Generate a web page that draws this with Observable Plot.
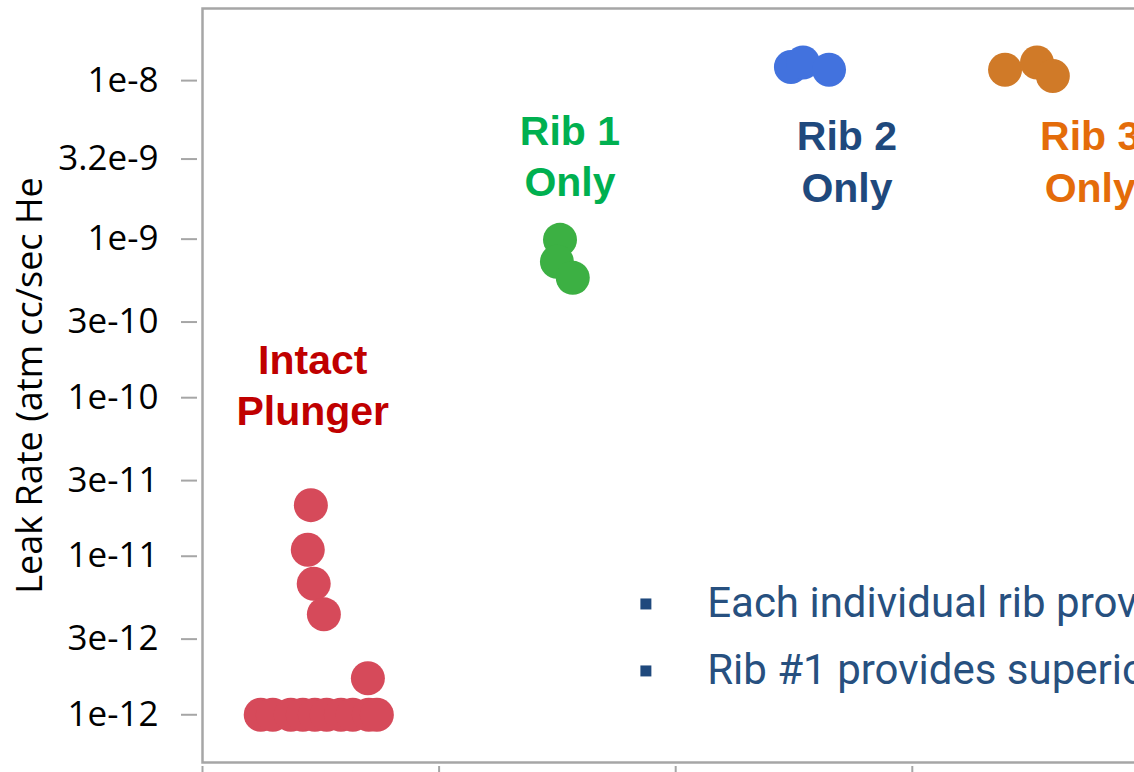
<!DOCTYPE html>
<html><head><meta charset="utf-8">
<script src="https://cdn.jsdelivr.net/npm/d3@7"></script>
<script src="https://cdn.jsdelivr.net/npm/@observablehq/plot@0.6"></script>
<style>
html,body{margin:0;padding:0;background:#fff;overflow:hidden;width:1134px;height:772px;}
#chart{position:absolute;left:0;top:0;width:1405px;height:802px;}
#chart svg{max-width:none !important;width:1405px !important;height:802px !important;}
</style></head><body><div id="chart"></div>
<script>
// ---- data ----
const categories = ["Intact Plunger", "Rib 1 Only", "Rib 2 Only", "Rib 3 Only"];
const categoryLabels = ["Intact\nPlunger", "Rib 1\nOnly", "Rib 2\nOnly", "Rib 3\nOnly"];

const intactRates  = [2.1e-11, 1.1e-11, 6.7e-12, 4.3e-12, 1.7e-12, 1e-12, 1e-12, 1e-12, 1e-12, 1e-12, 1e-12, 1e-12, 1e-12, 1e-12, 1e-12];
const intactJitter = [-0.042, -0.055, -0.03, 0.013, 0.199, -0.254, -0.203, -0.127, -0.076, -0.025, 0.025, 0.085, 0.135, 0.203, 0.237];
const rib1Rates  = [9.9e-10, 7.2e-10, 5.7e-10];
const rib1Jitter = [0.011, -0.002, 0.065];
const rib2Rates  = [1.22e-8, 1.30e-8, 1.17e-8];
const rib2Jitter = [-0.013, 0.038, 0.148];
const rib3Rates  = [1.17e-8, 1.30e-8, 1.07e-8];
const rib3Jitter = [-0.108, 0.027, 0.094];

const yTickValues = [1e-12, 3e-12, 1e-11, 3e-11, 1e-10, 3e-10, 1e-9, 3.2e-9, 1e-8];
const yTickLabels = ["1e-12", "3e-12", "1e-11", "3e-11", "1e-10", "3e-10", "1e-9", "3.2e-9", "1e-8"];
const yTitle = "Leak Rate (atm cc/sec He";

// label anchors (category units, leak-rate units)
const labelX = [-0.034, 1.053, 2.224, 3.252];
const labelY = [1.24e-10, 3.44e-9, 3.17e-9, 3.17e-9];

const notes = ["Each individual rib provides a seal", "Rib #1 provides superior sealing"];
const noteY = [5.0e-12, 1.89e-12];

// ---- styles ----
const dotColors = ["#d64a5a", "#3cb043", "#4272de", "#d07a28"];
const labelColors = ["#c00000", "#00b050", "#1f497d", "#e46c0a"];
const gray = "#a6a6a6";

// ---- build rows ----
const series = [[intactRates, intactJitter], [rib1Rates, rib1Jitter], [rib2Rates, rib2Jitter], [rib3Rates, rib3Jitter]];
const points = series.flatMap(([rates, jit], i) => rates.map((r, j) => ({group: categories[i], x: i + jit[j], rate: r})));
const labelRows = categories.map((c, i) => ({group: c, text: categoryLabels[i], x: labelX[i], y: labelY[i], color: labelColors[i]}));
const noteRows = notes.map((t, i) => ({text: t, y: noteY[i]}));
const tickLabel = new Map(yTickValues.map((v, i) => [v, yTickLabels[i]]));
const xMin = -0.5, xMax = categories.length + 0.5;
const yMin = 5e-13, yMax = 2.85e-8;
const bandEdges = d3.range(categories.length + 2).map(i => i - 0.5);

const chart = Plot.plot({
  width: 1405,
  height: 802,
  marginLeft: 202,
  marginTop: 8,
  marginBottom: 40,
  marginRight: 20,
  x: {type: "linear", domain: [xMin, xMax], axis: null},
  y: {type: "log", domain: [yMin, yMax], axis: null},
  color: {domain: categories, range: dotColors},
  style: {background: "white"},
  marks: [
    Plot.frame({stroke: gray, strokeWidth: 2.5}),
    // y ticks (left of frame, with a gap)
    Plot.ruleY(yTickValues, {y: d => d, x1: () => xMin, x2: () => xMin, insetRight: 16, dx: -5, stroke: gray, strokeWidth: 2}),
    Plot.text(yTickValues, {y: d => d, text: d => tickLabel.get(d), frameAnchor: "left", textAnchor: "end", dx: -44,
      fill: "#000", fontSize: 35, fontFamily: "Open Sans"}),
    // x ticks below frame
    Plot.ruleX(bandEdges, {x: d => d, y1: () => yMin, y2: () => yMin, insetTop: 4, insetBottom: -14, stroke: gray, strokeWidth: 2}),
    Plot.text([yTitle], {frameAnchor: "left", textAnchor: "middle", rotate: -90, dx: -172, fontSize: 36,
      fontFamily: "Open Sans", fill: "#000"}),
    Plot.dot(points, {x: "x", y: "rate", r: 17, fill: "group"}),
    ...labelRows.map(d => Plot.text([d], {x: "x", y: "y", text: "text", fill: d.color, fontSize: 41,
      fontWeight: "bold", fontFamily: "Liberation Sans", lineHeight: 1.25})),
    Plot.dot(noteRows, {x: () => 1.374, y: "y", symbol: "square", r: 6.2, fill: "#1f497d"}),
    Plot.text(noteRows, {x: () => 1.633, y: "y", text: "text", textAnchor: "start", fontSize: 42,
      fontFamily: "Roboto", fill: "#27507f"})
  ]
});
document.getElementById("chart").appendChild(chart);
</script>
</body></html>
